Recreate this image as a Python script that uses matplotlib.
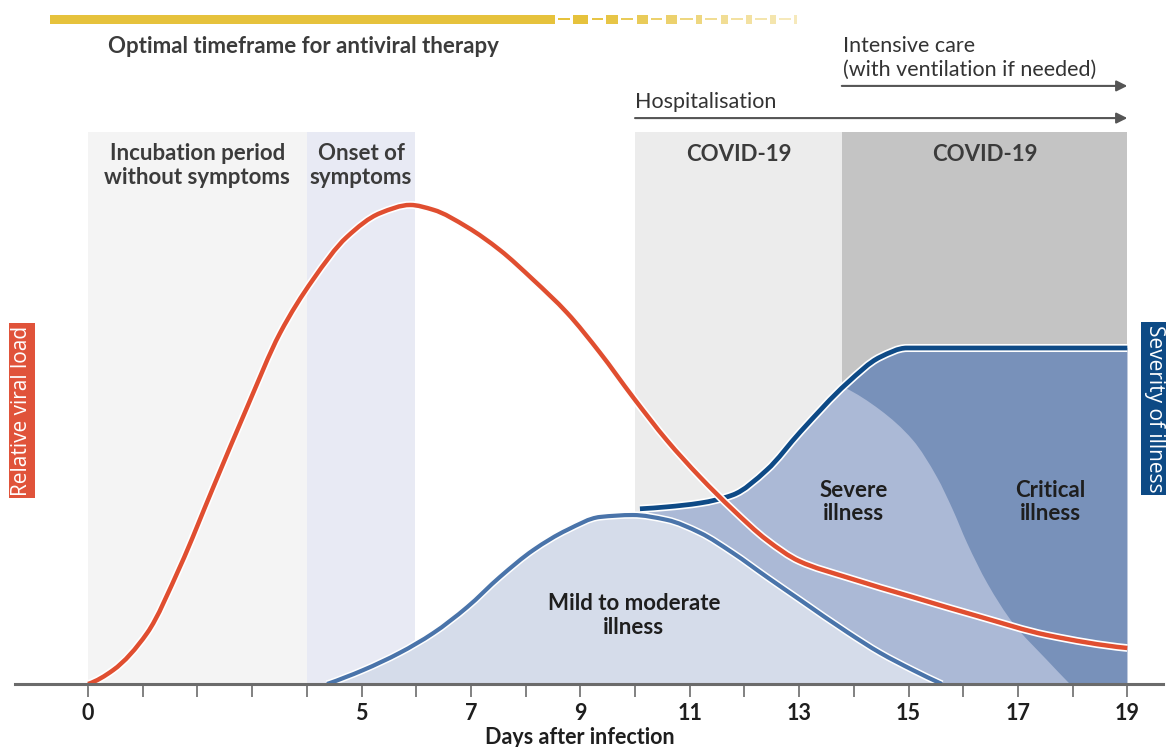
import matplotlib
matplotlib.use("Agg")
import matplotlib.pyplot as plt
import matplotlib.patheffects as pe
from matplotlib.path import Path
from matplotlib.patches import PathPatch

plt.rcParams['font.family'] = ['Lato', 'DejaVu Sans']

# ---------------- data ----------------
viral_days = [0, 0.46, 1.08, 1.68, 2.29, 2.91, 3.51, 4.11, 4.73, 5.34, 5.89, 6.31,
              6.93, 7.53, 8.14, 8.76, 9.36, 9.96, 10.58, 11.19, 11.79, 12.41, 13.0,
              13.88, 15.08, 16.31, 17.53, 19.0]
viral_load = [0, 2.9, 10.6, 24.4, 41.0, 57.7, 73.1, 84.2, 93.1, 98.1, 99.8, 98.8,
              95.2, 90.4, 84.2, 77.3, 69.0, 59.8, 50.8, 43.1, 36.3, 30.0, 25.6,
              22.2, 18.1, 14.0, 10.2, 7.5]

mild_days = [4.37, 5.03, 5.70, 6.31, 6.93, 7.53, 8.14, 8.76, 9.36, 9.96, 10.58, 11.19,
             11.79, 12.41, 13.02, 13.88, 14.48, 15.08, 15.61]
mild_level = [0, 2.9, 6.5, 10.6, 16.0, 22.3, 27.9, 32.1, 34.8, 35.2, 34.2, 31.5,
              27.3, 22.3, 17.5, 10.8, 6.5, 2.9, 0]

severity_days = [10.09, 10.58, 11.19, 11.79, 12.41, 13.02, 13.88, 14.48, 14.97, 15.5, 19.0]
severity_level = [36.5, 36.9, 37.7, 39.4, 44.6, 52.5, 62.7, 68.1, 70.0, 70.0, 70.0]

critical_days = [13.84, 14.48, 15.08, 15.52, 15.81, 16.07, 16.44, 16.91, 17.53, 17.95]
critical_level = [61.7, 57.1, 50.8, 43.1, 36.3, 29.4, 21.0, 12.7, 5.0, 0]

# phase bands
band_starts = [0, 4, 10, 13.78]
band_ends = [4, 5.98, 13.78, 19]
band_labels = ["Incubation period\nwithout symptoms", "Onset of\nsymptoms", "COVID-19", "COVID-19"]
band_colors = ["#f4f4f4", "#e8eaf4", "#ececec", "#c4c4c4"]
band_top = 115

tick_days = list(range(0, 20))
tick_labels = ["0", "", "", "", "", "5", "", "7", "", "9", "", "11", "", "13", "", "15", "", "17", "", "19"]

therapy_start, therapy_solid_end = -0.69, 8.54
therapy_marks = [9.01, 9.58, 10.13, 10.66, 11.17, 11.63, 12.08, 12.52, 12.94]
therapy_mark_w = [0.27, 0.22, 0.2, 0.2, 0.11, 0.13, 0.11, 0.11, 0.055]
therapy_alpha = [1.0, 0.95, 0.85, 0.75, 0.65, 0.55, 0.48, 0.42, 0.35]


# ---------------- smooth monotone (PCHIP-style) Bezier path helpers ----------------
def _slopes(xs, ys):
    n = len(xs)
    h = [xs[i + 1] - xs[i] for i in range(n - 1)]
    d = [(ys[i + 1] - ys[i]) / h[i] for i in range(n - 1)]
    m = [0.0] * n
    for k in range(1, n - 1):
        if d[k - 1] * d[k] <= 0:
            m[k] = 0.0
        else:
            w1 = 2 * h[k] + h[k - 1]
            w2 = h[k] + 2 * h[k - 1]
            m[k] = (w1 + w2) / (w1 / d[k - 1] + w2 / d[k])

    def end(h0, h1, d0, d1):
        if len(d) < 2:
            return d0
        v = ((2 * h0 + h1) * d0 - h0 * d1) / (h0 + h1)
        if v * d0 <= 0:
            return 0.0
        if d0 * d1 <= 0 and abs(v) > abs(3 * d0):
            return 3 * d0
        return v
    m[0] = end(h[0], h[1] if n > 2 else h[0], d[0], d[1] if n > 2 else d[0])
    m[-1] = end(h[-1], h[-2] if n > 2 else h[-1], d[-1], d[-2] if n > 2 else d[-1])
    return m


def bezier_segs(xs, ys):
    m = _slopes(xs, ys)
    segs = []
    for i in range(len(xs) - 1):
        hx = xs[i + 1] - xs[i]
        p1 = (xs[i], ys[i])
        p2 = (xs[i + 1], ys[i + 1])
        c1 = (xs[i] + hx / 3, ys[i] + m[i] * hx / 3)
        c2 = (xs[i + 1] - hx / 3, ys[i + 1] - m[i + 1] * hx / 3)
        segs.append((p1, c1, c2, p2))
    return segs


def segs_to_path(items, close=False):
    verts, codes = [], []
    for kind, data in items:
        if kind == "curve":
            for j, (p1, c1, c2, p2) in enumerate(data):
                if j == 0:
                    verts.append(p1)
                    codes.append(Path.MOVETO if not verts[:-1] else Path.LINETO)
                verts += [c1, c2, p2]
                codes += [Path.CURVE4] * 3
        else:
            for p in data:
                verts.append(p)
                codes.append(Path.MOVETO if len(verts) == 1 else Path.LINETO)
    if close:
        verts.append(verts[0])
        codes.append(Path.CLOSEPOLY)
    return Path(verts, codes)


def reverse_segs(segs):
    return [(p2, c2, c1, p1) for (p1, c1, c2, p2) in segs[::-1]]


mild_segs = bezier_segs(mild_days, mild_level)
sev_segs = bezier_segs(severity_days, severity_level)
crit_segs = bezier_segs(critical_days, critical_level)
viral_segs = bezier_segs(viral_days, viral_load)

# ---------------- figure ----------------
fig = plt.figure(figsize=(11.66, 7.47), dpi=100)
ax = fig.add_axes([0, 0, 1, 1])
ax.set_xlim(-1.609, 19.707)
ax.set_ylim(-13.125, 142.5)

txt = "#3b3b3b"
dark = "#1e1e1e"
FS = 16

# bands
for s, e, lab, c in zip(band_starts, band_ends, band_labels, band_colors):
    ax.fill_between([s, e], 0, band_top, color=c, lw=0, zorder=1)
    ax.text((s + e) / 2, 108.0 if "\n" in lab else 110.4, lab, ha="center", va="center",
            fontsize=FS, fontweight="bold", color=txt, linespacing=1.15, zorder=6)

# fills
mild_fill = segs_to_path([("curve", mild_segs)], close=True)
ax.add_patch(PathPatch(mild_fill, fc="#d5dcea", ec="none", lw=0, zorder=2))

mild_tail = [s for s in mild_segs if s[0][0] >= severity_days[0]]
sev_fill = segs_to_path([("curve", sev_segs), ("line", [(19.0, 0), (mild_days[-1], 0)]),
                         ("curve", reverse_segs(mild_tail))], close=True)
ax.add_patch(PathPatch(sev_fill, fc="#abb9d6", ec="none", lw=0, zorder=2))

sev_tail = [s for s in sev_segs if s[0][0] >= critical_days[0]]
crit_fill = segs_to_path([("curve", crit_segs), ("line", [(19.0, 0)]),
                          ("curve", reverse_segs(sev_tail))], close=True)
ax.add_patch(PathPatch(crit_fill, fc="#7891ba", ec="none", lw=0, zorder=2))


# lines
def add_line(segs, color, lw, white, z):
    p = segs_to_path([("curve", segs)])
    patch = PathPatch(p, fill=False, ec=color, lw=lw, zorder=z, capstyle="butt",
                      path_effects=[pe.Stroke(linewidth=white, foreground="white"), pe.Normal()])
    ax.add_patch(patch)


add_line(mild_segs, "#4a74aa", 3.0, 5.2, 3)
add_line(sev_segs, "#0e4a86", 3.4, 5.8, 3)
add_line(viral_segs, "#e04e30", 3.2, 5.6, 4)

# region labels
for x, y, lab in [(9.98, 14.25, "Mild to moderate\nillness"),
                  (13.99, 37.9, "Severe\nillness"),
                  (17.59, 37.9, "Critical\nillness")]:
    ax.text(x, y, lab, ha="center", va="center", fontsize=FS, fontweight="bold",
            color=dark, linespacing=1.15, zorder=6)

# therapy bar
ybar = 138.5
ax.barh(ybar, therapy_solid_end - therapy_start, left=therapy_start, height=1.9,
        color="#e6c23c", lw=0, zorder=3)
prev = therapy_solid_end
for x, w, a in zip(therapy_marks, therapy_mark_w, therapy_alpha):
    ax.barh(ybar, (x - w / 2) - prev - 0.12, left=prev + 0.06, height=0.45,
            color="#e6c23c", alpha=a, lw=0, zorder=3)
    ax.barh(ybar, w, left=x - w / 2, height=1.9, color="#e6c23c", alpha=a, lw=0, zorder=3)
    prev = x + w / 2
ax.text(0.37, 132.9, "Optimal timeframe for antiviral therapy", ha="left", va="center",
        fontsize=FS, fontweight="bold", color=txt)

# care arrows
arrow_c = "#555555"
ax.annotate("", xy=(19.0, 124.6), xytext=(13.78, 124.6),
            arrowprops=dict(arrowstyle="-|>", color=arrow_c, lw=1.5, mutation_scale=16,
                            shrinkA=0, shrinkB=0))
ax.annotate("", xy=(19.0, 117.9), xytext=(10.0, 117.9),
            arrowprops=dict(arrowstyle="-|>", color=arrow_c, lw=1.5, mutation_scale=16,
                            shrinkA=0, shrinkB=0))
ax.text(13.80, 130.4, "Intensive care\n(with ventilation if needed)", ha="left", va="center",
        fontsize=15.5, color="#333333", linespacing=1.25)
ax.text(10.0, 121.3, "Hospitalisation", ha="left", va="center", fontsize=15.5, color="#333333")

# side labels
ax.text(-1.207, 56.9, "Relative viral load", rotation=90, ha="center", va="center",
        fontsize=15, color="white", family=["Open Sans", "DejaVu Sans"],
        bbox=dict(boxstyle="square,pad=0.12", fc="#e0533a", ec="none"))
ax.text(19.49, 57.4, "Severity of illness", rotation=-90, ha="center", va="center",
        fontsize=15, color="white", family=["Open Sans", "DejaVu Sans"],
        bbox=dict(boxstyle="square,pad=0.12", fc="#0d4a85", ec="none"))

# x axis
for side in ["left", "right", "top"]:
    ax.spines[side].set_visible(False)
ax.spines["bottom"].set_position(("data", 0))
ax.spines["bottom"].set_bounds(-1.33, 19.66)
ax.spines["bottom"].set_color("#6b6b6b")
ax.spines["bottom"].set_linewidth(2.2)
ax.spines["bottom"].set_zorder(5)
ax.set_yticks([])
ax.set_xticks(tick_days)
ax.set_xticklabels(tick_labels)
ax.tick_params(axis="x", direction="out", length=9, width=1.3, color="#777777",
               pad=5, labelsize=15.5, labelcolor=dark)
for t in ax.get_xticklabels():
    t.set_fontweight("bold")
ax.set_xlabel("Days after infection", fontsize=15.5, fontweight="bold", color=dark)
ax.xaxis.set_label_coords(580 / 1166, (747 - 737) / 747)
ax.xaxis.label.set_va("center")

fig.savefig("out.png", dpi=100, facecolor="white")
